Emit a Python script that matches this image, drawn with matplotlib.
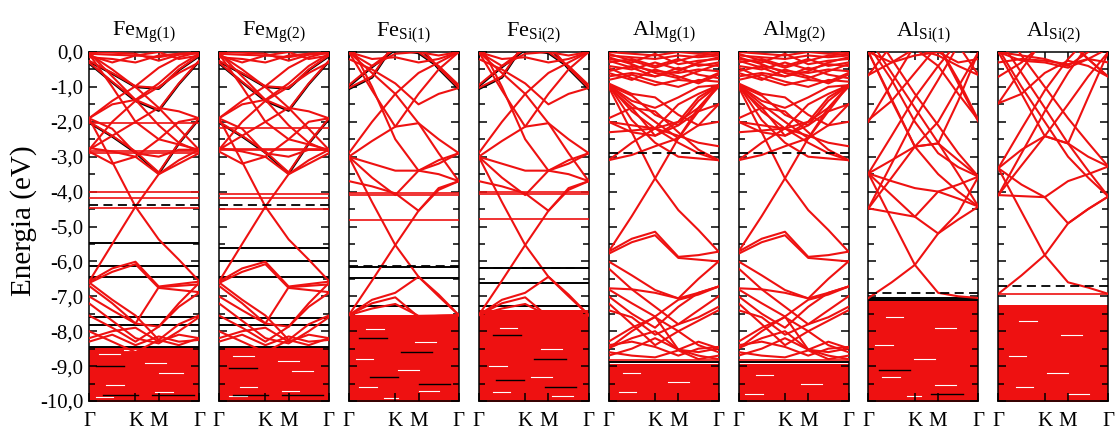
import matplotlib.pyplot as plt
import numpy as np

plt.rcParams['font.family'] = ['Liberation Serif', 'DejaVu Serif']
plt.rcParams['mathtext.fontset'] = 'custom'
plt.rcParams['mathtext.rm'] = 'Liberation Serif'

# k-path nodes: G, mid G-K, K, M, mid M-G, G  (units of pi/a)
k_path = [0.0, 0.667, 1.333, 2.0, 2.577, 3.155]
k_ticks = [0.0, 1.333, 2.0, 3.155]
k_labels = ['Γ', 'K', 'M', 'Γ']

titles = [r'Fe$_{\mathrm{Mg(1)}}$', r'Fe$_{\mathrm{Mg(2)}}$',
          r'Fe$_{\mathrm{Si(1)}}$', r'Fe$_{\mathrm{Si(2)}}$',
          r'Al$_{\mathrm{Mg(1)}}$', r'Al$_{\mathrm{Mg(2)}}$',
          r'Al$_{\mathrm{Si(1)}}$', r'Al$_{\mathrm{Si(2)}}$']

# band energies (eV) at the k_path nodes
fe_mg_bands = [
    [0.00, -0.02, -0.05, -0.25, -0.08, 0.00],
    [-0.05, -0.08, -0.10, -0.15, -0.05, -0.02],
    [-0.10, -0.30, -0.10, 0.00, -0.20, -0.10],
    [-0.15, -0.20, -0.30, -0.10, -0.05, -0.05],
    [-0.25, -0.60, -0.98, -1.03, -0.50, -0.10],
    [-0.30, -0.85, -1.37, -1.65, -0.90, -0.25],
    [-0.05, -0.50, -1.00, -1.60, -2.20, -2.80],
    [-1.90, -1.40, -0.98, -0.45, -0.15, 0.00],
    [-1.90, -1.50, -1.37, -0.90, -0.40, -0.05],
    [-0.05, -1.00, -2.00, -2.50, -2.65, -2.80],
    [-0.02, -0.70, -1.37, -2.10, -2.60, -2.85],
    [-2.80, -2.00, -1.40, -1.00, -0.60, -0.30],
    [-2.00, -2.40, -2.85, -3.45, -2.60, -1.90],
    [-2.75, -2.85, -3.00, -2.50, -2.00, -1.90],
    [-2.80, -2.40, -2.00, -1.60, -1.70, -1.90],
    [-1.90, -2.20, -2.90, -3.00, -2.80, -2.80],
    [-2.85, -3.20, -3.00, -3.50, -3.20, -2.90],
    [-1.90, -3.15, -4.43, -5.37, -5.95, -6.56],
    [-6.58, -5.50, -4.43, -3.50, -3.10, -2.80],
    [-6.58, -6.20, -6.01, -6.72, -6.65, -6.58],
    [-6.62, -6.30, -6.08, -6.76, -6.82, -6.88],
    [-6.70, -7.20, -7.78, -7.87, -7.20, -6.62],
    [-7.00, -7.40, -7.78, -6.74, -6.70, -6.66],
    [-6.60, -7.10, -7.55, -8.25, -7.80, -7.55],
    [-7.55, -7.90, -8.30, -7.87, -7.30, -6.90],
    [-7.20, -7.70, -8.20, -8.35, -8.00, -7.60],
    [-8.20, -8.00, -7.90, -8.30, -8.10, -8.20],
    [-8.00, -8.30, -8.60, -8.25, -8.40, -8.20],
    [-8.30, -8.10, -8.40, -8.15, -8.30, -8.25],
]
fe_mg_black = [
    [-0.32, -0.87, -1.40, -1.68, -0.92, -0.27],
    [-0.27, -0.62, -1.00, -1.05, -0.52, -0.12],
    [-2.02, -2.42, -2.88, -3.48, -2.62, -1.92],
]

fe_si_bands = [
    [-1.03, -0.70, 0.30, 0.20, -0.45, -1.03],
    [-0.95, -0.40, 0.10, 0.00, -0.40, -0.95],
    [0.00, -0.40, -0.05, 0.00, -0.10, 0.00],
    [0.00, -0.20, -0.15, -0.30, -0.20, 0.00],
    [0.00, -1.10, -2.14, -2.04, -2.50, -2.90],
    [-3.00, -2.55, -2.14, -1.20, -0.50, 0.00],
    [0.00, -0.60, -1.20, -2.04, -2.90, -3.70],
    [-2.90, -2.00, -1.20, -0.60, -0.30, 0.00],
    [-0.20, -0.50, -0.90, -1.50, -1.20, -1.03],
    [0.30, -1.00, -2.50, -3.40, -3.20, -2.90],
    [-3.00, -3.60, -4.10, -3.40, -3.10, -2.90],
    [-3.70, -3.85, -4.05, -4.55, -3.95, -3.70],
    [-3.00, -3.20, -3.40, -3.40, -3.50, -3.70],
    [-3.00, -4.30, -5.53, -6.44, -7.00, -7.54],
    [-7.54, -6.55, -5.53, -4.55, -3.90, -3.70],
    [-7.54, -7.20, -7.03, -7.59, -7.56, -7.54],
    [-7.54, -7.35, -7.22, -7.56, -7.55, -7.54],
    [-7.54, -7.10, -6.90, -6.44, -6.95, -7.54],
]
fe_si_black = [
    [-1.06, -0.73, 0.27, 0.17, -0.48, -1.06],
    [-0.98, -0.43, 0.07, -0.03, -0.43, -0.98],
]

al_mg_bands = [
    [0.00, -0.05, -0.10, 0.00, -0.05, 0.00],
    [-0.10, -0.15, -0.20, -0.10, -0.15, -0.10],
    [-0.20, -0.30, -0.05, -0.35, -0.25, -0.20],
    [-0.30, -0.20, -0.40, -0.20, -0.40, -0.30],
    [-0.40, -0.50, -0.30, -0.50, -0.35, -0.40],
    [-0.55, -0.40, -0.55, -0.60, -0.50, -0.55],
    [-0.70, -0.60, -0.70, -0.45, -0.65, -0.75],
    [-0.05, -0.25, -0.45, -0.25, -0.10, -0.05],
    [-0.60, -0.80, -0.50, -0.70, -0.90, -0.65],
    [-0.25, -0.45, -0.70, -0.55, -0.30, -0.15],
    [-0.80, -0.65, -0.85, -1.00, -0.80, -0.85],
    [-0.15, -0.35, -0.60, -0.75, -0.55, -0.35],
    [-0.45, -0.75, -0.95, -0.80, -0.85, -0.60],
    [-0.95, -1.40, -1.60, -1.30, -1.00, -0.95],
    [-0.95, -1.70, -2.19, -1.50, -1.20, -0.95],
    [-0.95, -1.50, -2.00, -2.47, -1.60, -0.95],
    [-0.95, -1.25, -1.80, -2.10, -1.40, -0.95],
    [-1.00, -1.60, -2.40, -2.00, -1.30, -0.95],
    [-0.90, -1.20, -1.30, -1.80, -2.10, -2.00],
    [-1.00, -2.30, -3.62, -4.53, -5.10, -5.72],
    [-5.72, -4.70, -3.62, -2.47, -1.70, -0.95],
    [-2.00, -2.10, -2.19, -2.00, -1.60, -1.00],
    [-3.10, -2.60, -2.19, -2.60, -2.90, -3.10],
    [-1.90, -1.60, -1.70, -2.30, -2.80, -3.10],
    [-2.00, -2.30, -2.40, -2.10, -1.70, -1.50],
    [-2.30, -2.25, -2.19, -2.40, -2.60, -2.70],
    [-0.95, -1.95, -2.60, -3.00, -3.05, -3.10],
    [-3.10, -2.95, -2.70, -2.47, -2.10, -1.50],
    [-5.72, -5.35, -5.15, -5.87, -5.82, -5.72],
    [-5.78, -5.45, -5.25, -5.90, -5.95, -6.00],
    [-6.00, -6.40, -6.82, -7.06, -6.90, -6.72],
    [-6.77, -6.80, -6.90, -7.06, -6.50, -6.00],
    [-8.49, -8.00, -7.58, -7.10, -6.95, -6.72],
    [-6.80, -7.20, -7.58, -8.53, -8.60, -8.49],
    [-8.49, -8.20, -8.00, -8.53, -8.30, -8.49],
    [-7.40, -7.60, -8.10, -7.80, -7.60, -7.30],
    [-7.20, -7.80, -8.40, -8.00, -7.70, -7.40],
    [-6.20, -6.80, -7.30, -7.80, -7.40, -7.00],
    [-7.00, -7.50, -7.90, -7.30, -6.90, -6.72],
    [-8.30, -7.90, -7.60, -8.00, -8.40, -8.60],
    [-8.70, -8.50, -8.20, -8.53, -8.70, -8.80],
    [-8.60, -8.70, -8.75, -8.55, -8.80, -8.70],
    [-8.40, -8.30, -8.45, -8.70, -8.50, -8.45],
]

al_si1_bands = [
    [-0.66, 0.20, 0.60, 0.60, 0.20, -0.66],
    [-0.66, -0.30, 0.10, -0.10, -0.40, -0.66],
    [0.00, -0.30, -0.10, 0.00, -0.30, -0.20],
    [-2.00, -0.90, 0.20, 0.20, -0.90, -2.00],
    [-1.95, -1.40, -0.60, 0.20, -0.80, -1.95],
    [0.00, -1.35, -2.71, -3.50, -4.00, -4.43],
    [-4.48, -3.60, -2.71, -2.00, -1.00, 0.00],
    [0.00, -1.40, -2.71, -2.62, -3.10, -3.57],
    [-3.48, -3.10, -2.71, -2.62, -1.40, 0.00],
    [0.20, -0.80, -2.00, -2.90, -3.30, -3.57],
    [0.40, -0.60, -1.60, -2.60, -3.50, -4.43],
    [-4.48, -3.20, -1.90, -0.80, 0.20, 0.80],
    [0.80, 0.30, 0.10, -0.40, -1.20, -1.95],
    [-3.48, -2.40, -1.30, -0.40, 0.30, 0.80],
    [0.80, -0.20, -1.20, -2.10, -2.90, -3.57],
    [-3.48, -4.10, -4.72, -5.20, -4.60, -3.57],
    [-4.48, -4.60, -4.72, -4.00, -3.80, -3.57],
    [-3.48, -3.70, -3.90, -4.00, -4.20, -4.43],
    [-7.05, -6.60, -6.10, -5.20, -4.80, -4.43],
    [-3.48, -4.80, -6.10, -6.90, -7.00, -7.05],
]

al_si2_bands = [
    [-1.47, -0.50, 0.40, 0.40, -0.20, -0.71],
    [-0.71, -0.30, 0.30, 0.30, -0.20, -0.71],
    [-1.47, -1.20, -0.60, -0.25, -0.40, -0.71],
    [0.00, -0.10, -0.20, -0.40, 0.00, 0.30],
    [-0.30, -0.20, -0.25, -0.35, -0.20, -0.30],
    [0.00, -0.25, -0.30, -0.45, -0.20, 0.10],
    [0.00, -1.20, -2.41, -2.62, -3.00, -3.28],
    [-4.10, -3.25, -2.41, -1.50, -0.70, 0.00],
    [-3.33, -2.80, -2.41, -2.62, -1.30, 0.00],
    [0.10, -1.00, -2.00, -3.00, -3.60, -4.14],
    [0.40, -0.60, -1.60, -2.62, -3.40, -4.14],
    [-4.10, -2.90, -1.70, -0.60, 0.20, 0.80],
    [-3.33, -2.20, -1.10, -0.20, 0.40, 0.80],
    [0.80, -0.10, -1.00, -1.90, -2.60, -3.28],
    [-3.33, -3.80, -4.16, -4.91, -4.50, -4.14],
    [-4.10, -4.13, -4.16, -3.70, -3.50, -3.28],
    [-3.33, -4.58, -5.82, -6.60, -6.75, -6.93],
    [-6.93, -6.40, -5.82, -4.91, -4.50, -4.14],
]

panel_bands = [fe_mg_bands, fe_mg_bands, fe_si_bands, fe_si_bands,
               al_mg_bands, al_mg_bands, al_si1_bands, al_si2_bands]
panel_black = [fe_mg_black, fe_mg_black, fe_si_black, fe_si_black,
               [], [], [], []]

# dispersionless levels (eV)
red_flat = [
    [-2.04, -2.85, -2.90, -4.02, -4.17, -4.48],
    [-2.17, -2.77, -2.82, -4.08, -4.17, -4.50],
    [-4.03, -4.10, -4.81],
    [-4.00, -4.06, -4.79],
    [-8.83],
    [-8.83],
    [],
    [-6.93],
]
black_flat = [
    [-5.48, -6.13, -6.45, -7.60, -7.83, -8.45],
    [-5.63, -5.99, -6.46, -7.63, -7.82, -8.45],
    [-6.15, -6.47, -7.27],
    [-6.19, -6.62, -7.29],
    [-8.88],
    [-8.88],
    [-7.05, -7.10],
    [],
]
fermi = [-4.38, -4.38, -6.13, -6.19, -2.90, -2.90, -6.91, -6.70]
dense_top = [-8.45, -8.45, -7.55, -7.38, -8.95, -8.95, -7.12, -7.25]

# light slits and dark streaks inside the packed low-lying bands: [k0, k1, E]
dense_gaps = [
    [[0.3, 0.9, -8.65], [1.6, 2.2, -8.90], [0.5, 1.0, -9.55], [2.0, 2.7, -9.20],
     [0.2, 0.7, -9.88], [1.9, 2.4, -9.75], [1.0, 1.4, -8.55]],
    [[0.4, 1.0, -8.70], [1.7, 2.3, -8.85], [0.6, 1.1, -9.60], [2.1, 2.7, -9.15],
     [0.3, 0.8, -9.85], [1.8, 2.3, -9.70]],
    [[0.5, 1.0, -7.95], [1.9, 2.5, -8.30], [0.2, 0.7, -8.80], [1.4, 2.0, -9.10],
     [0.3, 0.8, -9.60], [2.0, 2.6, -9.70], [1.0, 1.4, -9.90]],
    [[0.6, 1.1, -7.90], [1.8, 2.4, -8.50], [0.3, 0.8, -9.00], [1.5, 2.1, -9.30],
     [0.4, 0.9, -9.75], [2.1, 2.7, -9.85]],
    [[0.4, 0.9, -9.20], [1.7, 2.3, -9.45], [0.3, 0.8, -9.75]],
    [[0.5, 1.0, -9.25], [1.8, 2.4, -9.50], [0.2, 0.7, -9.80]],
    [[0.5, 1.0, -7.60], [1.9, 2.5, -7.90], [0.2, 0.7, -8.40], [1.3, 1.9, -8.80],
     [0.4, 0.9, -9.30], [1.9, 2.5, -9.55], [1.1, 1.5, -9.85]],
    [[0.6, 1.1, -7.70], [1.8, 2.4, -8.10], [0.3, 0.8, -8.70], [1.4, 2.0, -9.20],
     [0.5, 1.0, -9.60], [2.0, 2.6, -9.80]],
]
dense_dark = [
    [[0.4, 1.4, -9.82], [1.8, 3.0, -9.84], [0.2, 1.0, -9.00]],
    [[0.4, 1.4, -9.82], [1.8, 3.0, -9.84], [0.3, 1.1, -9.05]],
    [[0.3, 1.1, -8.20], [1.5, 2.4, -8.60], [0.6, 1.4, -9.30], [2.0, 2.9, -9.50]],
    [[0.4, 1.2, -8.10], [1.6, 2.5, -8.80], [0.5, 1.3, -9.40], [1.9, 2.8, -9.60]],
    [],
    [],
    [[0.3, 1.2, -9.10], [1.8, 2.7, -9.80]],
    [],
]

red = '#ee1111'
fig = plt.figure(figsize=(11.17, 4.32), dpi=100)

for i in range(8):
    ax = fig.add_axes([(89 + i * 129.9) / 1117, 31 / 432, 110 / 1117, 349 / 432])
    kmax = k_path[-1]

    ax.fill_between([0, kmax], -10.5, dense_top[i], color=red, lw=0, zorder=1)
    for k0, k1, e in dense_gaps[i]:
        ax.plot([k0, k1], [e, e], color='white', lw=0.8, zorder=1.5)
    for k0, k1, e in dense_dark[i]:
        ax.plot([k0, k1], [e, e], color='black', lw=1.0, zorder=1.5)
    for e in black_flat[i]:
        ax.axhline(e, color='black', lw=1.4, zorder=2)
    for band in panel_black[i]:
        ax.plot(k_path, band, color='black', lw=1.8, zorder=2)
    for band in panel_bands[i]:
        ax.plot(k_path, band, color=red, lw=1.5, zorder=3)
    for e in red_flat[i]:
        ax.axhline(e, color=red, lw=1.2, zorder=3)
    ax.axhline(fermi[i], color='black', lw=1.3, ls=(0, (5, 3)), zorder=4)

    ax.set_xlim(0, kmax)
    ax.set_ylim(-10, 0)
    ax.set_xticks(k_ticks)
    ax.set_xticklabels(k_labels, fontsize=15)
    ax.tick_params(axis='x', direction='in', top=True, bottom=True,
                   length=6, width=1.1, pad=8)
    ax.set_yticks(np.arange(-10, 0.5, 1.0))
    ax.set_yticks(np.arange(-9.5, 0, 1.0), minor=True)
    ax.tick_params(axis='y', which='both', direction='in', left=True,
                   right=True, width=1.1)
    ax.tick_params(axis='y', which='major', length=6)
    ax.tick_params(axis='y', which='minor', length=4)
    if i == 0:
        labels = ['-%d,0' % (10 - j) for j in range(10)] + ['0,0']
        ax.set_yticklabels(labels, fontsize=15)
        ax.tick_params(axis='y', pad=4)
    else:
        ax.set_yticklabels([])
    for s in ax.spines.values():
        s.set_linewidth(1.1)
    ax.set_title(titles[i], fontsize=16, pad=11)

fig.text(0.021, 0.49, 'Energia (eV)', rotation=90, fontsize=21,
         ha='center', va='center')

plt.savefig('out.png', dpi=100)
plt.close()
